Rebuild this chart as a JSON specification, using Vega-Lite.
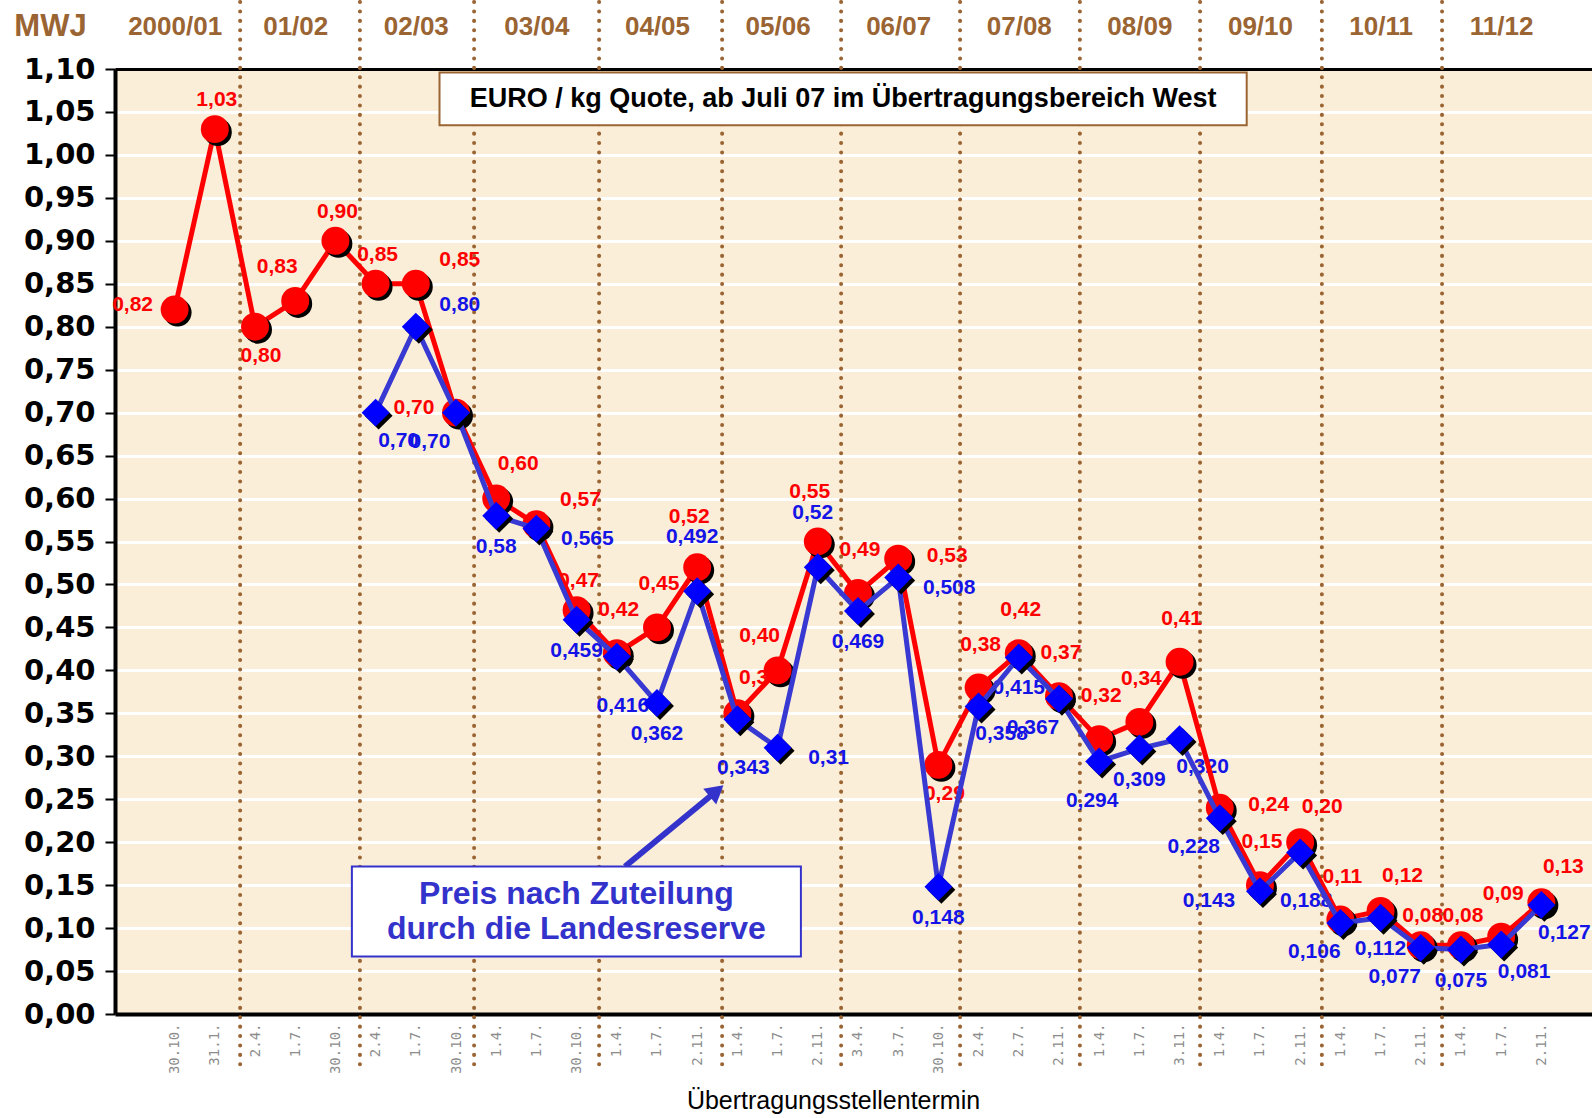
{
  "$schema": "https://vega.github.io/schema/vega-lite/v6.json",
  "width": 1477,
  "height": 945,
  "autosize": {"type": "none"},
  "padding": {"left": 115, "top": 69, "right": 0, "bottom": 104},
  "background": "#FFFFFF",
  "config": {"view": {"fill": "#FBEED8", "stroke": null}, "text": {"font": "Liberation Sans", "fontWeight": "bold", "fontSize": 21}},
  "resolve": {"axis": {"x": "independent", "y": "independent"}},
  "data": {"values": [
    {"i": 0, "d": "30.10.2000", "r": 0.82, "rl": "0,82"},
    {"i": 1, "d": "31.1.2001", "r": 1.03, "rl": "1,03"},
    {"i": 2, "d": "2.4.2001", "r": 0.80, "rl": "0,80"},
    {"i": 3, "d": "1.7.2001", "r": 0.83, "rl": "0,83"},
    {"i": 4, "d": "30.10.2001", "r": 0.90, "rl": "0,90"},
    {"i": 5, "d": "2.4.2002", "r": 0.85, "rl": "0,85", "b": 0.70, "bl": "0,70"},
    {"i": 6, "d": "1.7.2002", "r": 0.85, "rl": "0,85", "b": 0.80, "bl": "0,80"},
    {"i": 7, "d": "30.10.2002", "r": 0.70, "rl": "0,70", "b": 0.70, "bl": "0,70"},
    {"i": 8, "d": "1.4.2003", "r": 0.60, "rl": "0,60", "b": 0.58, "bl": "0,58"},
    {"i": 9, "d": "1.7.2003", "r": 0.57, "rl": "0,57", "b": 0.565, "bl": "0,565"},
    {"i": 10, "d": "30.10.2003", "r": 0.47, "rl": "0,47", "b": 0.459, "bl": "0,459"},
    {"i": 11, "d": "1.4.2004", "r": 0.42, "rl": "0,42", "b": 0.416, "bl": "0,416"},
    {"i": 12, "d": "1.7.2004", "r": 0.45, "rl": "0,45", "b": 0.362, "bl": "0,362"},
    {"i": 13, "d": "2.11.2004", "r": 0.52, "rl": "0,52", "b": 0.492, "bl": "0,492"},
    {"i": 14, "d": "1.4.2005", "r": 0.35, "rl": "0,35", "b": 0.343, "bl": "0,343"},
    {"i": 15, "d": "1.7.2005", "r": 0.40, "rl": "0,40", "b": 0.31, "bl": "0,31"},
    {"i": 16, "d": "2.11.2005", "r": 0.55, "rl": "0,55", "b": 0.52, "bl": "0,52"},
    {"i": 17, "d": "3.4.2006", "r": 0.49, "rl": "0,49", "b": 0.469, "bl": "0,469"},
    {"i": 18, "d": "3.7.2006", "r": 0.53, "rl": "0,53", "b": 0.508, "bl": "0,508"},
    {"i": 19, "d": "30.10.2006", "r": 0.29, "rl": "0,29", "b": 0.148, "bl": "0,148"},
    {"i": 20, "d": "2.4.2007", "r": 0.38, "rl": "0,38", "b": 0.358, "bl": "0,358"},
    {"i": 21, "d": "2.7.2007", "r": 0.42, "rl": "0,42", "b": 0.415, "bl": "0,415"},
    {"i": 22, "d": "2.11.2007", "r": 0.37, "rl": "0,37", "b": 0.367, "bl": "0,367"},
    {"i": 23, "d": "1.4.2008", "r": 0.32, "rl": "0,32", "b": 0.294, "bl": "0,294"},
    {"i": 24, "d": "1.7.2008", "r": 0.34, "rl": "0,34", "b": 0.309, "bl": "0,309"},
    {"i": 25, "d": "3.11.2008", "r": 0.41, "rl": "0,41", "b": 0.320, "bl": "0,320"},
    {"i": 26, "d": "1.4.2009", "r": 0.24, "rl": "0,24", "b": 0.228, "bl": "0,228"},
    {"i": 27, "d": "1.7.2009", "r": 0.15, "rl": "0,15", "b": 0.143, "bl": "0,143"},
    {"i": 28, "d": "2.11.2009", "r": 0.20, "rl": "0,20", "b": 0.188, "bl": "0,188"},
    {"i": 29, "d": "1.4.2010", "r": 0.11, "rl": "0,11", "b": 0.106, "bl": "0,106"},
    {"i": 30, "d": "1.7.2010", "r": 0.12, "rl": "0,12", "b": 0.112, "bl": "0,112"},
    {"i": 31, "d": "2.11.2010", "r": 0.08, "rl": "0,08", "b": 0.077, "bl": "0,077"},
    {"i": 32, "d": "1.4.2011", "r": 0.08, "rl": "0,08", "b": 0.075, "bl": "0,075"},
    {"i": 33, "d": "1.7.2011", "r": 0.09, "rl": "0,09", "b": 0.081, "bl": "0,081"},
    {"i": 34, "d": "2.11.2011", "r": 0.13, "rl": "0,13", "b": 0.127, "bl": "0,127"}
  ]},
  "layer": [
    {
      "data": {"values": [{"s": 1.63}, {"s": 4.61}, {"s": 7.45}, {"s": 10.56}, {"s": 13.62}, {"s": 16.58}, {"s": 19.54}, {"s": 22.52}, {"s": 25.51}, {"s": 28.54}, {"s": 31.53}]},
      "mark": {"type": "rule", "color": "#9A6433", "strokeWidth": 4, "strokeDash": [0.1, 9.3], "strokeCap": "round"},
      "encoding": {
        "x": {"field": "s", "type": "quantitative", "scale": {"domain": [-1.483, 35.26], "nice": false, "zero": false},
          "axis": {"orient": "top", "values": [0, 3, 6, 9, 12, 15, 18, 21, 24, 27, 30, 33],
            "labelExpr": "['2000/01','01/02','02/03','03/04','04/05','05/06','06/07','07/08','08/09','09/10','10/11','11/12'][round(datum.value/3)]",
            "labelFont": "Liberation Sans", "labelFontWeight": "bold", "labelFontSize": 26, "labelColor": "#9A6433",
            "labelBaseline": "middle", "labelPadding": 43, "labelFlush": false, "labelOverlap": false,
            "ticks": false, "grid": false, "domain": true, "domainColor": "#000000", "domainWidth": 3, "title": null}},
        "y": {"datum": 1.178, "type": "quantitative", "scale": {"domain": [0, 1.1], "nice": false, "zero": false}, "axis": null},
        "y2": {"datum": -0.063}
      }
    },
    {
      "transform": [{"filter": {"field": "i", "oneOf": [1, 4, 5, 10, 31, 32]}}],
      "mark": {"type": "text", "dx": 2, "dy": -29, "color": "#FF0000"},
      "encoding": {"x": {"field": "i", "type": "quantitative", "scale": {"domain": [-1.483, 35.26], "nice": false, "zero": false}, "axis": null},
        "y": {"field": "r", "type": "quantitative", "scale": {"domain": [0, 1.1], "nice": false, "zero": false}, "axis": null}, "text": {"field": "rl"}}
    },
    {
      "transform": [{"filter": {"field": "i", "oneOf": [11, 12, 17, 20, 21, 22, 23, 24, 25, 27, 29, 33]}}],
      "mark": {"type": "text", "dx": 2, "dy": -43, "color": "#FF0000"},
      "encoding": {"x": {"field": "i", "type": "quantitative", "scale": {"domain": [-1.483, 35.26], "nice": false, "zero": false}, "axis": null},
        "y": {"field": "r", "type": "quantitative", "scale": {"domain": [0, 1.1], "nice": false, "zero": false}, "axis": null}, "text": {"field": "rl"}}
    },
    {
      "transform": [{"filter": {"field": "i", "oneOf": [13, 16]}}],
      "mark": {"type": "text", "dx": -8, "dy": -50, "color": "#FF0000"},
      "encoding": {"x": {"field": "i", "type": "quantitative", "scale": {"domain": [-1.483, 35.26], "nice": false, "zero": false}, "axis": null},
        "y": {"field": "r", "type": "quantitative", "scale": {"domain": [0, 1.1], "nice": false, "zero": false}, "axis": null}, "text": {"field": "rl"}}
    },
    {
      "transform": [{"filter": {"field": "i", "oneOf": [8, 14, 28, 30, 34]}}],
      "mark": {"type": "text", "dx": 22, "dy": -35, "color": "#FF0000"},
      "encoding": {"x": {"field": "i", "type": "quantitative", "scale": {"domain": [-1.483, 35.26], "nice": false, "zero": false}, "axis": null},
        "y": {"field": "r", "type": "quantitative", "scale": {"domain": [0, 1.1], "nice": false, "zero": false}, "axis": null}, "text": {"field": "rl"}}
    },
    {
      "transform": [{"filter": {"field": "i", "oneOf": [6, 9]}}],
      "mark": {"type": "text", "dx": 44, "dy": -24, "color": "#FF0000"},
      "encoding": {"x": {"field": "i", "type": "quantitative", "scale": {"domain": [-1.483, 35.26], "nice": false, "zero": false}, "axis": null},
        "y": {"field": "r", "type": "quantitative", "scale": {"domain": [0, 1.1], "nice": false, "zero": false}, "axis": null}, "text": {"field": "rl"}}
    },
    {
      "transform": [{"filter": {"field": "i", "oneOf": [3, 15]}}],
      "mark": {"type": "text", "dx": -18, "dy": -34, "color": "#FF0000"},
      "encoding": {"x": {"field": "i", "type": "quantitative", "scale": {"domain": [-1.483, 35.26], "nice": false, "zero": false}, "axis": null},
        "y": {"field": "r", "type": "quantitative", "scale": {"domain": [0, 1.1], "nice": false, "zero": false}, "axis": null}, "text": {"field": "rl"}}
    },
    {
      "transform": [{"filter": {"field": "i", "oneOf": [0, 7]}}],
      "mark": {"type": "text", "dx": -42, "dy": -5, "color": "#FF0000"},
      "encoding": {"x": {"field": "i", "type": "quantitative", "scale": {"domain": [-1.483, 35.26], "nice": false, "zero": false}, "axis": null},
        "y": {"field": "r", "type": "quantitative", "scale": {"domain": [0, 1.1], "nice": false, "zero": false}, "axis": null}, "text": {"field": "rl"}}
    },
    {
      "transform": [{"filter": {"field": "i", "oneOf": [18, 26]}}],
      "mark": {"type": "text", "dx": 49, "dy": -3, "color": "#FF0000"},
      "encoding": {"x": {"field": "i", "type": "quantitative", "scale": {"domain": [-1.483, 35.26], "nice": false, "zero": false}, "axis": null},
        "y": {"field": "r", "type": "quantitative", "scale": {"domain": [0, 1.1], "nice": false, "zero": false}, "axis": null}, "text": {"field": "rl"}}
    },
    {
      "transform": [{"filter": {"field": "i", "oneOf": [2, 19]}}],
      "mark": {"type": "text", "dx": 6, "dy": 29, "color": "#FF0000"},
      "encoding": {"x": {"field": "i", "type": "quantitative", "scale": {"domain": [-1.483, 35.26], "nice": false, "zero": false}, "axis": null},
        "y": {"field": "r", "type": "quantitative", "scale": {"domain": [0, 1.1], "nice": false, "zero": false}, "axis": null}, "text": {"field": "rl"}}
    },
    {
      "transform": [{"filter": {"field": "i", "oneOf": [8, 10, 12, 17, 19, 21, 24, 30, 32]}}],
      "mark": {"type": "text", "dx": 0, "dy": 31, "color": "#1414E6"},
      "encoding": {"x": {"field": "i", "type": "quantitative", "scale": {"domain": [-1.483, 35.26], "nice": false, "zero": false}, "axis": null},
        "y": {"field": "b", "type": "quantitative", "scale": {"domain": [0, 1.1], "nice": false, "zero": false}, "axis": null}, "text": {"field": "bl"}}
    },
    {
      "transform": [{"filter": {"field": "i", "oneOf": [23]}}],
      "mark": {"type": "text", "dx": -7, "dy": 40, "color": "#1414E6"},
      "encoding": {"x": {"field": "i", "type": "quantitative", "scale": {"domain": [-1.483, 35.26], "nice": false, "zero": false}, "axis": null},
        "y": {"field": "b", "type": "quantitative", "scale": {"domain": [0, 1.1], "nice": false, "zero": false}, "axis": null}, "text": {"field": "bl"}}
    },
    {
      "transform": [{"filter": {"field": "i", "oneOf": [11, 14, 28]}}],
      "mark": {"type": "text", "dx": 6, "dy": 49, "color": "#1414E6"},
      "encoding": {"x": {"field": "i", "type": "quantitative", "scale": {"domain": [-1.483, 35.26], "nice": false, "zero": false}, "axis": null},
        "y": {"field": "b", "type": "quantitative", "scale": {"domain": [0, 1.1], "nice": false, "zero": false}, "axis": null}, "text": {"field": "bl"}}
    },
    {
      "transform": [{"filter": {"field": "i", "oneOf": [5, 20, 25, 33, 34]}}],
      "mark": {"type": "text", "dx": 23, "dy": 28, "color": "#1414E6"},
      "encoding": {"x": {"field": "i", "type": "quantitative", "scale": {"domain": [-1.483, 35.26], "nice": false, "zero": false}, "axis": null},
        "y": {"field": "b", "type": "quantitative", "scale": {"domain": [0, 1.1], "nice": false, "zero": false}, "axis": null}, "text": {"field": "bl"}}
    },
    {
      "transform": [{"filter": {"field": "i", "oneOf": [7, 22, 26, 29, 31]}}],
      "mark": {"type": "text", "dx": -26, "dy": 29, "color": "#1414E6"},
      "encoding": {"x": {"field": "i", "type": "quantitative", "scale": {"domain": [-1.483, 35.26], "nice": false, "zero": false}, "axis": null},
        "y": {"field": "b", "type": "quantitative", "scale": {"domain": [0, 1.1], "nice": false, "zero": false}, "axis": null}, "text": {"field": "bl"}}
    },
    {
      "transform": [{"filter": {"field": "i", "oneOf": [9, 15, 18]}}],
      "mark": {"type": "text", "dx": 51, "dy": 10, "color": "#1414E6"},
      "encoding": {"x": {"field": "i", "type": "quantitative", "scale": {"domain": [-1.483, 35.26], "nice": false, "zero": false}, "axis": null},
        "y": {"field": "b", "type": "quantitative", "scale": {"domain": [0, 1.1], "nice": false, "zero": false}, "axis": null}, "text": {"field": "bl"}}
    },
    {
      "transform": [{"filter": {"field": "i", "oneOf": [27]}}],
      "mark": {"type": "text", "dx": -51, "dy": 10, "color": "#1414E6"},
      "encoding": {"x": {"field": "i", "type": "quantitative", "scale": {"domain": [-1.483, 35.26], "nice": false, "zero": false}, "axis": null},
        "y": {"field": "b", "type": "quantitative", "scale": {"domain": [0, 1.1], "nice": false, "zero": false}, "axis": null}, "text": {"field": "bl"}}
    },
    {
      "transform": [{"filter": {"field": "i", "oneOf": [13, 16]}}],
      "mark": {"type": "text", "dx": -5, "dy": -54, "color": "#1414E6"},
      "encoding": {"x": {"field": "i", "type": "quantitative", "scale": {"domain": [-1.483, 35.26], "nice": false, "zero": false}, "axis": null},
        "y": {"field": "b", "type": "quantitative", "scale": {"domain": [0, 1.1], "nice": false, "zero": false}, "axis": null}, "text": {"field": "bl"}}
    },
    {
      "transform": [{"filter": {"field": "i", "oneOf": [6]}}],
      "mark": {"type": "text", "dx": 44, "dy": -22, "color": "#1414E6"},
      "encoding": {"x": {"field": "i", "type": "quantitative", "scale": {"domain": [-1.483, 35.26], "nice": false, "zero": false}, "axis": null},
        "y": {"field": "b", "type": "quantitative", "scale": {"domain": [0, 1.1], "nice": false, "zero": false}, "axis": null}, "text": {"field": "bl"}}
    },
    {
      "mark": {"type": "line", "color": "#FF0000", "strokeWidth": 5},
      "encoding": {
        "x": {"field": "i", "type": "quantitative", "scale": {"domain": [-1.483, 35.26], "nice": false, "zero": false},
          "axis": {"orient": "bottom", "values": [0, 1, 2, 3, 4, 5, 6, 7, 8, 9, 10, 11, 12, 13, 14, 15, 16, 17, 18, 19, 20, 21, 22, 23, 24, 25, 26, 27, 28, 29, 30, 31, 32, 33, 34],
            "labelExpr": "['30.10.','31.1.','2.4.','1.7.','30.10.','2.4.','1.7.','30.10.','1.4.','1.7.','30.10.','1.4.','1.7.','2.11.','1.4.','1.7.','2.11.','3.4.','3.7.','30.10.','2.4.','2.7.','2.11.','1.4.','1.7.','3.11.','1.4.','1.7.','2.11.','1.4.','1.7.','2.11.','1.4.','1.7.','2.11.'][round(datum.value)]",
            "labelAngle": -90, "labelFont": "DejaVu Sans Mono", "labelFontSize": 14, "labelColor": "#8C8C8C", "labelPadding": 9,
            "labelFlush": false, "labelOverlap": false,
            "ticks": false, "grid": false, "domain": true, "domainColor": "#000000", "domainWidth": 4,
            "title": "Übertragungsstellentermin", "titleFont": "Liberation Sans", "titleFontSize": 25, "titleFontWeight": "normal",
            "titleColor": "#000000", "titleX": 718, "titleY": 86, "titleBaseline": "middle", "titleAlign": "center"}},
        "y": {"field": "r", "type": "quantitative", "scale": {"domain": [0, 1.1], "nice": false, "zero": false},
          "axis": {"orient": "left", "values": [0, 0.05, 0.1, 0.15, 0.2, 0.25, 0.3, 0.35, 0.4, 0.45, 0.5, 0.55, 0.6, 0.65, 0.7, 0.75, 0.8, 0.85, 0.9, 0.95, 1, 1.05, 1.1],
            "labelExpr": "replace(format(datum.value,'.2f'),'.',',')",
            "labelFont": "DejaVu Sans", "labelFontWeight": "bold", "labelFontSize": 29, "labelColor": "#000000", "labelPadding": 10,
            "labelFlush": false, "labelOverlap": false,
            "ticks": true, "tickSize": 10, "tickWidth": 2, "tickColor": "#000000",
            "domain": true, "domainColor": "#000000", "domainWidth": 4,
            "grid": true, "gridColor": "#FFFFFF", "gridWidth": 3, "gridOpacity": 1,
            "title": "MWJ", "titleAngle": 0, "titleX": -65, "titleY": -43, "titleAlign": "center", "titleBaseline": "middle",
            "titleFont": "Liberation Sans", "titleFontSize": 31, "titleFontWeight": "bold", "titleColor": "#9A6433"}}
      }
    },
    {
      "mark": {"type": "point", "shape": "circle", "filled": true, "size": 780, "color": "#000000", "opacity": 1, "xOffset": 3, "yOffset": 3},
      "encoding": {"x": {"field": "i", "type": "quantitative", "scale": {"domain": [-1.483, 35.26], "nice": false, "zero": false}, "axis": null},
        "y": {"field": "r", "type": "quantitative", "scale": {"domain": [0, 1.1], "nice": false, "zero": false}, "axis": null}}
    },
    {
      "mark": {"type": "point", "shape": "circle", "filled": true, "size": 780, "color": "#FF0000", "opacity": 1},
      "encoding": {"x": {"field": "i", "type": "quantitative", "scale": {"domain": [-1.483, 35.26], "nice": false, "zero": false}, "axis": null},
        "y": {"field": "r", "type": "quantitative", "scale": {"domain": [0, 1.1], "nice": false, "zero": false}, "axis": null}}
    },
    {
      "mark": {"type": "line", "color": "#3838D2", "strokeWidth": 5},
      "encoding": {"x": {"field": "i", "type": "quantitative", "scale": {"domain": [-1.483, 35.26], "nice": false, "zero": false}, "axis": null},
        "y": {"field": "b", "type": "quantitative", "scale": {"domain": [0, 1.1], "nice": false, "zero": false}, "axis": null}}
    },
    {
      "mark": {"type": "point", "shape": "diamond", "filled": true, "size": 780, "color": "#000000", "opacity": 1, "xOffset": 3, "yOffset": 3},
      "encoding": {"x": {"field": "i", "type": "quantitative", "scale": {"domain": [-1.483, 35.26], "nice": false, "zero": false}, "axis": null},
        "y": {"field": "b", "type": "quantitative", "scale": {"domain": [0, 1.1], "nice": false, "zero": false}, "axis": null}}
    },
    {
      "mark": {"type": "point", "shape": "diamond", "filled": true, "size": 780, "color": "#0000FF", "opacity": 1},
      "encoding": {"x": {"field": "i", "type": "quantitative", "scale": {"domain": [-1.483, 35.26], "nice": false, "zero": false}, "axis": null},
        "y": {"field": "b", "type": "quantitative", "scale": {"domain": [0, 1.1], "nice": false, "zero": false}, "axis": null}}
    },
    {
      "data": {"values": [{}]},
      "mark": {"type": "rule", "color": "#3333CC", "strokeWidth": 6},
      "encoding": {
        "x": {"datum": 11.204, "type": "quantitative", "scale": {"domain": [-1.483, 35.26], "nice": false, "zero": false}, "axis": null},
        "y": {"datum": 0.1717, "type": "quantitative", "scale": {"domain": [0, 1.1], "nice": false, "zero": false}, "axis": null},
        "x2": {"datum": 13.483},
        "y2": {"datum": 0.2596}
      }
    },
    {
      "data": {"values": [{}]},
      "mark": {"type": "point", "shape": "triangle-up", "filled": true, "size": 420, "angle": 50.8, "color": "#3333CC", "opacity": 1},
      "encoding": {
        "x": {"datum": 13.483, "type": "quantitative", "scale": {"domain": [-1.483, 35.26], "nice": false, "zero": false}, "axis": null},
        "y": {"datum": 0.2596, "type": "quantitative", "scale": {"domain": [0, 1.1], "nice": false, "zero": false}, "axis": null}
      }
    },
    {
      "data": {"values": [{}]},
      "mark": {"type": "rect", "fill": "#FFFFFF", "stroke": "#3333CC", "strokeWidth": 2},
      "encoding": {
        "x": {"datum": 4.41, "type": "quantitative", "scale": {"domain": [-1.483, 35.26], "nice": false, "zero": false}, "axis": null},
        "x2": {"datum": 15.58},
        "y": {"datum": 0.1717, "type": "quantitative", "scale": {"domain": [0, 1.1], "nice": false, "zero": false}, "axis": null},
        "y2": {"datum": 0.0669}
      }
    },
    {
      "data": {"values": [{}]},
      "mark": {"type": "text", "text": ["Preis nach Zuteilung", "durch die Landesreserve"], "font": "Liberation Sans", "fontWeight": "bold", "fontSize": 32, "lineHeight": 35, "color": "#3333CC", "align": "center", "baseline": "middle"},
      "encoding": {
        "x": {"datum": 9.995, "type": "quantitative", "scale": {"domain": [-1.483, 35.26], "nice": false, "zero": false}, "axis": null},
        "y": {"datum": 0.1397, "type": "quantitative", "scale": {"domain": [0, 1.1], "nice": false, "zero": false}, "axis": null}
      }
    },
    {
      "data": {"values": [{}]},
      "mark": {"type": "rect", "fill": "#FFFFFF", "stroke": "#9A6433", "strokeWidth": 2},
      "encoding": {
        "x": {"datum": 6.59, "type": "quantitative", "scale": {"domain": [-1.483, 35.26], "nice": false, "zero": false}, "axis": null},
        "x2": {"datum": 26.67},
        "y": {"datum": 1.096, "type": "quantitative", "scale": {"domain": [0, 1.1], "nice": false, "zero": false}, "axis": null},
        "y2": {"datum": 1.0346}
      }
    },
    {
      "data": {"values": [{}]},
      "mark": {"type": "text", "text": "EURO / kg Quote, ab Juli 07 im Übertragungsbereich West", "font": "Liberation Sans", "fontWeight": "bold", "fontSize": 27, "color": "#000000", "align": "center", "baseline": "middle"},
      "encoding": {
        "x": {"datum": 16.63, "type": "quantitative", "scale": {"domain": [-1.483, 35.26], "nice": false, "zero": false}, "axis": null},
        "y": {"datum": 1.0653, "type": "quantitative", "scale": {"domain": [0, 1.1], "nice": false, "zero": false}, "axis": null}
      }
    }
  ]
}
